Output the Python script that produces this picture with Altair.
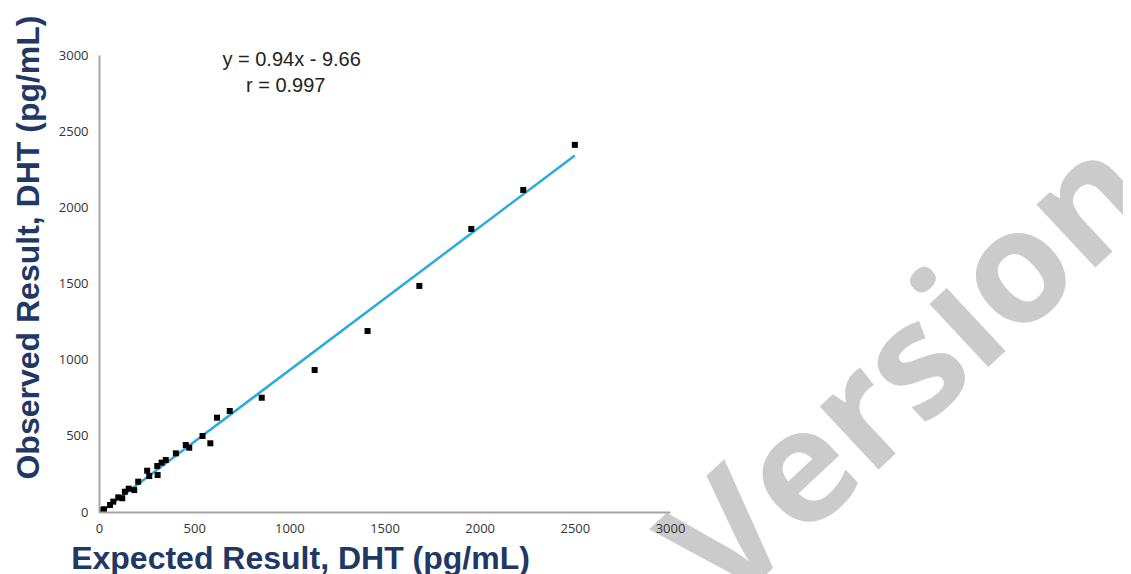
import altair as alt
import pandas as pd

# Measured data (Expected vs Observed DHT, pg/mL)
expected = [19, 26, 58, 75, 101, 122, 136, 156, 185, 206, 253, 264, 306, 308, 329,
            351, 404, 456, 474, 544, 585, 620, 687, 855, 1133, 1411, 1683, 1956, 2229, 2500]
observed = [13, 18, 46, 68, 96, 90, 133, 153, 144, 199, 271, 236, 302, 243, 324,
            341, 385, 440, 422, 499, 451, 619, 663, 750, 932, 1188, 1484, 1858, 2114, 2410]

# Fit line end points (as drawn)
fit_x = [28, 2500]
fit_y = [17, 2340]

ticks = [0, 500, 1000, 1500, 2000, 2500, 3000]

eq_text = ["y = 0.94x - 9.66", "r = 0.997"]
eq_x = [1012, 981]
eq_y = [2925, 2758]

wm_text = ["Version"]
wm_x = [4440]
wm_y = [680]

pts = pd.DataFrame({"Expected": expected, "Observed": observed})
fit = pd.DataFrame({"Expected": fit_x, "Observed": fit_y})
eq = pd.DataFrame({"label": eq_text, "Expected": eq_x, "Observed": eq_y})
wm = pd.DataFrame({"label": wm_text, "Expected": wm_x, "Observed": wm_y})

NAVY = "#1f3864"

xscale = alt.Scale(domain=[0, 3000], nice=False, zero=True)
yscale = alt.Scale(domain=[0, 3000], nice=False, zero=True)

xaxis = alt.Axis(
    values=ticks, format="d", title="Expected Result, DHT (pg/mL)", grid=False, ticks=False,
    domainColor="#a6a6a6", domainWidth=2, labelFont="Open Sans", labelFontSize=13,
    labelColor="#333333", labelPadding=10, labelFlush=False,
    titleFont="Liberation Sans", titleFontSize=32, titleFontWeight="bold", titleColor=NAVY,
    titleX=201, titleY=56, titleAlign="center", titleBaseline="alphabetic", zindex=1,
)
yaxis = alt.Axis(
    values=ticks, format="d", title="Observed Result, DHT (pg/mL)", grid=False, ticks=False,
    domainColor="#a6a6a6", domainWidth=2, labelFont="Open Sans", labelFontSize=13,
    labelColor="#333333", labelPadding=11, labelFlush=False,
    titleFont="Liberation Sans", titleFontSize=32, titleFontWeight="bold", titleColor=NAVY,
    titleX=-61, titleY=192, titleAngle=270, titleAlign="center", titleBaseline="alphabetic",
    zindex=1,
)

x_enc = alt.X("Expected:Q", scale=xscale, axis=xaxis)
y_enc = alt.Y("Observed:Q", scale=yscale, axis=yaxis)

watermark = alt.Chart(wm).mark_text(
    font="Open Sans", fontSize=158, fontWeight="bold", color="#cbcbcb",
    angle=317, align="center", baseline="alphabetic",
).encode(x=x_enc, y=y_enc, text="label:N")

line = alt.Chart(fit).mark_line(color="#29abe2", strokeWidth=2.5).encode(x=x_enc, y=y_enc)

points = alt.Chart(pts).mark_point(shape="square", filled=True, color="#000000",
                                   size=36, opacity=1).encode(x=x_enc, y=y_enc)

eqs = alt.Chart(eq).mark_text(font="Liberation Sans", fontSize=20, color="#222222",
                              align="center", baseline="alphabetic").encode(
    x=x_enc, y=y_enc, text="label:N")

chart = alt.layer(watermark, line, points, eqs).properties(
    width=571, height=457,
    autosize=alt.AutoSizeParams(type="none"),
    padding={"left": 91, "top": 47, "right": 453, "bottom": 62},
).configure_view(stroke=None)

chart.save("out.html", embed_options={"renderer": "svg", "actions": False})
